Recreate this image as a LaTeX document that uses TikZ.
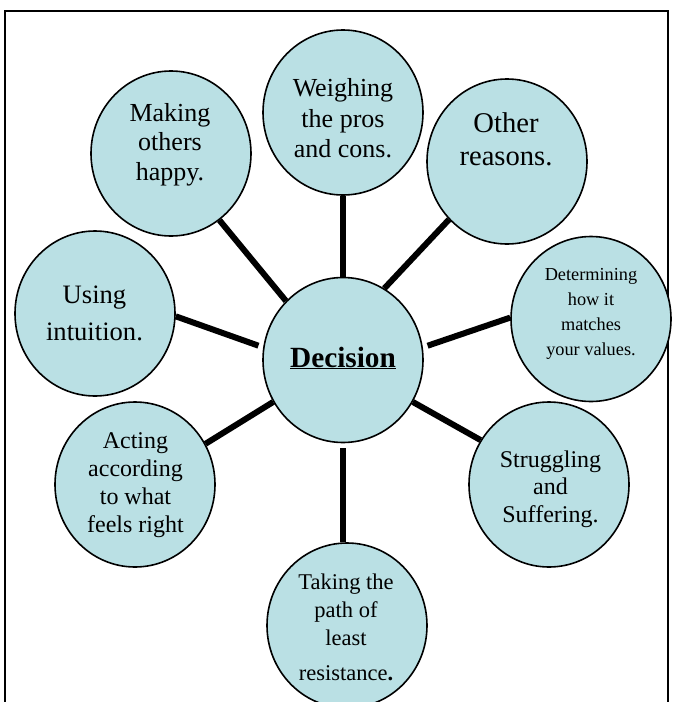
\documentclass[tikz,border=0pt]{standalone}
\usepackage{fontspec}
\setmainfont{Liberation Serif}
\usetikzlibrary{shapes.geometric}
\definecolor{bubble}{RGB}{186,224,228}
\tikzset{
  bub/.style={ellipse, draw=black, line width=1.6pt, fill=bubble, minimum width=160pt, minimum height=165pt, inner sep=0pt},
  txt/.style={align=center, inner sep=0pt},
  conn/.style={line width=6pt},
  frameline/.style={line width=1.4pt}
}
\begin{document}
\begin{tikzpicture}[x=1pt,y=-1pt]
\useasboundingbox (0,0) rectangle (673,702);
\fill[white] (0,0) rectangle (673,702);
% frame
\coordinate (f1) at (5,720);
\coordinate (f2) at (5,11);
\coordinate (f3) at (668,11);
\coordinate (f4) at (668,720);
\draw[frameline] (f1) -- (f2) -- (f3) -- (f4);
% bubbles
\node[bub] (mk) at (171,153.5) {};
\node[bub] (wp) at (343,112.5) {};
\node[bub] (ot) at (507,161.5) {};
\node[bub] (ui) at (95,313.5) {};
\node[bub] (dc) at (343,360) {};
\node[bub] (dv) at (591,319) {};
\node[bub] (ac) at (135,484.5) {};
\node[bub] (st) at (549,484.5) {};
\node[bub] (tk) at (347,625.5) {};
% texts
\node[txt, font=\fontsize{26}{29.5}\selectfont] (mkt) at (170,144.4) {Making\\others\\happy.};
\node[txt, font=\fontsize{26}{30.5}\selectfont] (wpt) at (343,118.6) {Weighing\\the pros\\and cons.};
\node[txt, font=\fontsize{28.6}{33}\selectfont] (ott) at (506,138.8) {Other\\reasons.};
\node[txt, font=\fontsize{26.6}{37}\selectfont] (uit) at (94.5,313.7) {Using\\intuition.};
\node[txt, font=\fontsize{29.3}{33}\selectfont\bfseries, anchor=base] (dct) at (343,367) {\underline{Decision}};
\node[txt, font=\fontsize{18.3}{25}\selectfont] (dvt) at (591,313.5) {Determining\\how it\\matches\\your values.};
\node[txt, font=\fontsize{24}{27.8}\selectfont] (act) at (135.5,485) {Acting\\according\\to what\\feels right};
\node[txt, font=\fontsize{24}{27.5}\selectfont] (stt) at (550.5,488.9) {Struggling\\and\\Suffering.};
\node[txt, font=\fontsize{22.5}{28}\selectfont] (tkt) at (346,627.3) {Taking the\\path of\\least\\[7pt]resistance\textbf{.}};
% connectors
\draw[conn] (mk.-54) -- (dc.134);
\draw[conn] (wp.south) -- (dc.north);
\draw[conn] (ot.225.5) -- (dc.60);
\draw[conn, shorten >=5pt] (ui.-2) -- (dc.171.3);
\draw[conn, shorten >=5pt] (dv.179.3) -- (dc.9.4);
\draw[conn] (ac.30.3) -- (dc.211);
\draw[conn] (st.147.3) -- (dc.-31.3);
\draw[conn, shorten <=5pt] (dc.south) -- (dc.south |- tk.north);
\end{tikzpicture}
\end{document}
